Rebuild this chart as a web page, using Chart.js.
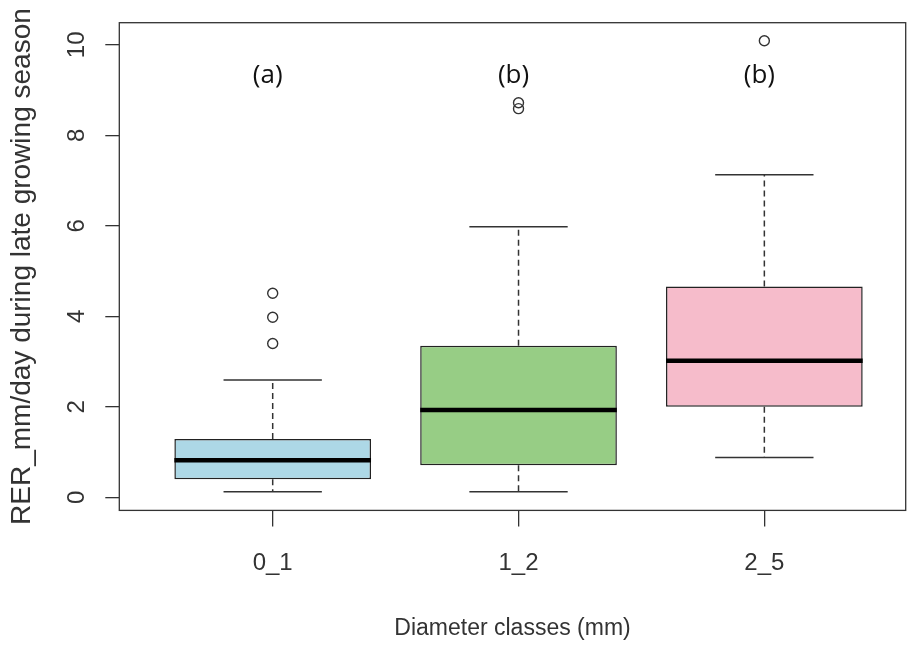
<!DOCTYPE html>
<html>
<head>
<meta charset="utf-8">
<title>RER por classe de diâmetro</title>
<script src="https://cdn.jsdelivr.net/npm/chart.js@4.4.1/dist/chart.umd.min.js"></script>
<style>
  html, body { margin: 0; padding: 0; background: #fff; }
  #wrap { width: 920px; height: 648px; }
</style>
</head>
<body>
<div id="wrap"><canvas id="grafico" width="920" height="648"></canvas></div>
<script>
const CATEGORIAS = ['0_1', '1_2', '2_5'];
const BIGODE_INF = [0.12, 0.12, 0.88];
const Q1 = [0.40, 0.71, 2.00];
const MEDIANA = [0.82, 1.93, 3.02];
const Q3 = [1.29, 3.35, 4.66];
const BIGODE_SUP = [2.59, 5.98, 7.13];
const OUTLIERS = [[3.40, 3.98, 4.51], [8.59, 8.72], [10.09]];
const LETRAS = ['(a)', '(b)', '(b)'];
const LETRA_Y = 9.33;
const TICKS_Y = [0, 2, 4, 6, 8, 10];

/* Estilo */
const CORES_CAIXA = ['#add8e6', '#97cd85', '#f6bccb'];
const TINTA = '#333';
const FONTE = "'Liberation Sans', Arial, sans-serif";

const pontosOutlier = OUTLIERS.flatMap((vals, i) => vals.map(v => ({ x: i + 1, y: v })));

/* Mediana, bigodes tracejados, hastes, moldura e textos extras */
const extrasBoxplot = {
  id: 'extrasBoxplot',
  beforeDraw(chart) {
    const { ctx, width, height } = chart;
    ctx.save();
    ctx.fillStyle = '#fff';
    ctx.fillRect(0, 0, width, height);
    ctx.restore();
  },
  afterDatasetsDraw(chart) {
    const { ctx, scales: { y } } = chart;
    const barras = chart.getDatasetMeta(0).data;
    ctx.save();
    barras.forEach((barra, i) => {
      const cx = barra.x, w = barra.width, haste = w / 4;
      const yQ1 = y.getPixelForValue(Q1[i]), yQ3 = y.getPixelForValue(Q3[i]);
      const yInf = y.getPixelForValue(BIGODE_INF[i]), ySup = y.getPixelForValue(BIGODE_SUP[i]);

      // bigodes tracejados
      ctx.strokeStyle = TINTA;
      ctx.lineWidth = 1.5;
      ctx.setLineDash([6, 4]);
      ctx.beginPath();
      ctx.moveTo(cx, yQ3); ctx.lineTo(cx, ySup);
      ctx.moveTo(cx, yQ1); ctx.lineTo(cx, yInf);
      ctx.stroke();

      // hastes
      ctx.setLineDash([]);
      ctx.beginPath();
      ctx.moveTo(cx - haste, ySup); ctx.lineTo(cx + haste, ySup);
      ctx.moveTo(cx - haste, yInf); ctx.lineTo(cx + haste, yInf);
      ctx.stroke();

      // mediana
      const yMed = y.getPixelForValue(MEDIANA[i]);
      ctx.strokeStyle = '#000';
      ctx.lineWidth = 4.5;
      ctx.beginPath();
      ctx.moveTo(cx - w / 2, yMed); ctx.lineTo(cx + w / 2, yMed);
      ctx.stroke();
    });
    ctx.restore();
  },
  afterDraw(chart) {
    const { ctx, chartArea: a, scales: { x, y } } = chart;
    ctx.save();

    // moldura da área do gráfico
    ctx.strokeStyle = TINTA;
    ctx.lineWidth = 1.3;
    ctx.strokeRect(a.left, a.top, a.right - a.left, a.bottom - a.top);

    // rótulos do eixo y, girados como no R
    ctx.fillStyle = TINTA;
    ctx.textAlign = 'center';
    ctx.textBaseline = 'middle';
    ctx.font = `24px ${FONTE}`;
    y.ticks.forEach(t => {
      ctx.save();
      ctx.translate(a.left - 42, y.getPixelForValue(t.value));
      ctx.rotate(-Math.PI / 2);
      ctx.fillText(String(t.value), 0, 0);
      ctx.restore();
    });

    // título do eixo y
    ctx.save();
    ctx.font = `28px ${FONTE}`;
    ctx.translate(a.left - 97, (a.top + a.bottom) / 2);
    ctx.rotate(-Math.PI / 2);
    ctx.fillText('RER_mm/day during late growing season', 0, 0);
    ctx.restore();

    // letras de significância
    ctx.fillStyle = '#111';
    ctx.font = "26px 'Open Sans', sans-serif";
    LETRAS.forEach((txt, i) => {
      ctx.fillText(txt, x.getPixelForValue(i + 1) - 5, y.getPixelForValue(LETRA_Y));
    });
    ctx.restore();
  }
};

new Chart(document.getElementById('grafico'), {
  type: 'bar',
  data: {
    datasets: [
      {
        label: 'Caixas',
        data: CATEGORIAS.map((_, i) => ({ x: i + 1, y: [Q1[i], Q3[i]] })),
        backgroundColor: CORES_CAIXA,
        borderColor: '#222',
        borderWidth: 1.5,
        borderSkipped: false,
        categoryPercentage: 1,
        barPercentage: 0.8
      },
      {
        type: 'scatter',
        label: 'Outliers',
        data: pontosOutlier,
        pointStyle: 'circle',
        pointRadius: 5,
        backgroundColor: 'rgba(0,0,0,0)',
        borderColor: TINTA,
        borderWidth: 1.4
      }
    ]
  },
  options: {
    responsive: false,
    animation: false,
    layout: { padding: { left: 105.3, right: 14.3, top: 22.7, bottom: 5.2 } },
    plugins: { legend: { display: false }, tooltip: { enabled: false } },
    scales: {
      x: {
        type: 'linear',
        min: 0.376,
        max: 3.575,
        offset: false,
        afterBuildTicks: s => { s.ticks = CATEGORIAS.map((_, i) => ({ value: i + 1 })); },
        ticks: {
          callback: v => CATEGORIAS[v - 1],
          font: { family: FONTE, size: 24 },
          color: TINTA,
          padding: 23,
          maxRotation: 0,
          autoSkip: false
        },
        grid: { offset: false, drawOnChartArea: false, drawTicks: true, tickLength: 16, color: TINTA, lineWidth: 1.3 },
        border: { display: false },
        title: {
          display: true,
          text: 'Diameter classes (mm)',
          font: { family: FONTE, size: 23 },
          color: TINTA,
          padding: { top: 14, bottom: 0 }
        }
      },
      y: {
        min: -0.29,
        max: 10.49,
        afterBuildTicks: s => { s.ticks = TICKS_Y.map(v => ({ value: v })); },
        ticks: { display: false },
        grid: { drawOnChartArea: false, drawTicks: true, tickLength: 14, color: TINTA, lineWidth: 1.3 },
        border: { display: false }
      }
    }
  },
  plugins: [extrasBoxplot]
});
</script>
</body>
</html>
